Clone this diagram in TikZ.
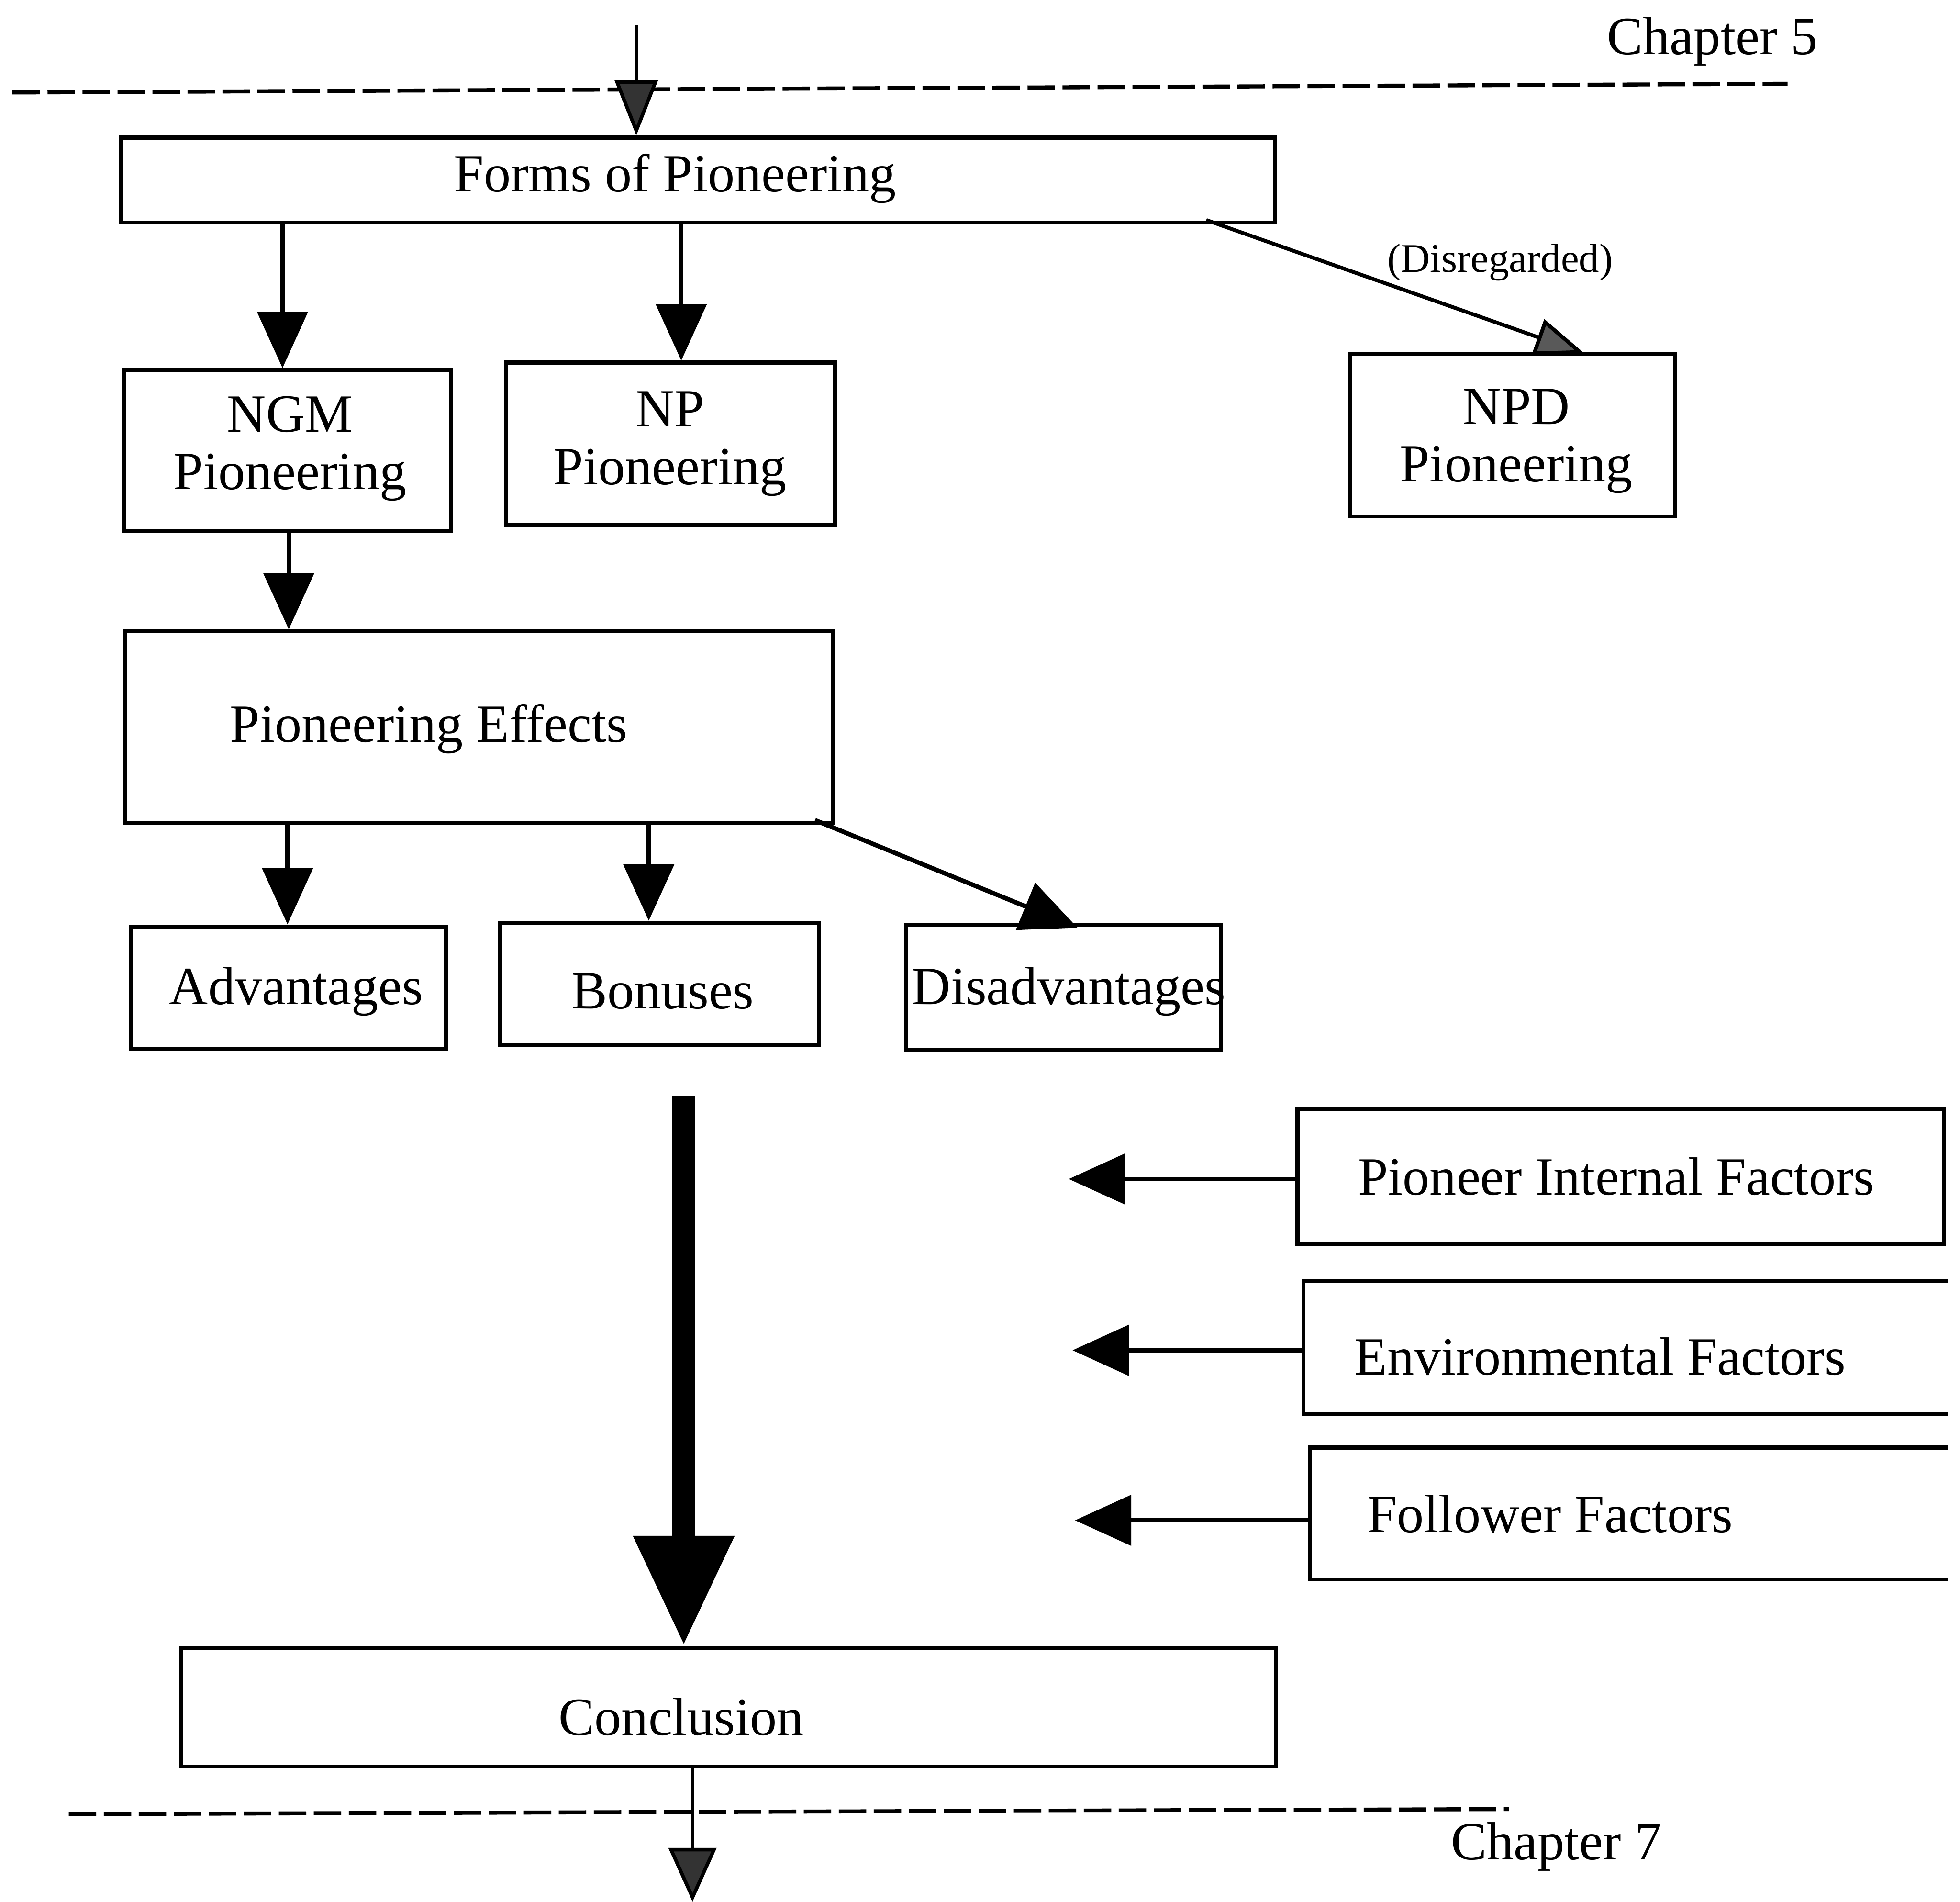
\documentclass[tikz,border=0pt]{standalone}
\usepackage{fontspec}
\setmainfont{Liberation Serif}
\usetikzlibrary{arrows.meta}
\begin{document}
\begin{tikzpicture}[x=1pt,y=-1pt,
  box/.style={draw,line width=3.2pt,inner sep=0pt,rectangle},
  openbox/.style={inner sep=0pt,rectangle},
  lbl/.style={inner sep=0pt,font=\fontsize{43}{46}\selectfont,align=center,yshift=-3pt},
  small/.style={inner sep=0pt,font=\fontsize{32.5}{35}\selectfont,yshift=-2pt},
  arr/.style={line width=3.6pt,-{Triangle[length=45pt,width=40pt]}},
  hatch/.style={line width=2.8pt,-{Triangle[length=44pt,width=34pt,fill=black!80]}},
  chapline/.style={line width=3.2pt,dash pattern=on 22pt off 6pt}]
\useasboundingbox (0,0) rectangle (1568,1521);

% chapter separators
\draw[chapline] (10,74) -- (1430,67);
\draw[chapline] (55,1451) -- (1207,1447);
\node[lbl] (ch5) at (1370,30) {Chapter 5};
\node[lbl] (ch7) at (1245,1474) {Chapter 7};

% boxes
\node[box,minimum width=923pt,minimum height=68pt] (forms) at (558.5,144) {};
\node[box,minimum width=262pt,minimum height=129pt] (ngm) at (230,360.5) {};
\node[box,minimum width=263pt,minimum height=130pt] (np) at (536.5,355) {};
\node[box,minimum width=260pt,minimum height=130pt] (npd) at (1210,348) {};
\node[box,minimum width=566pt,minimum height=153pt] (eff) at (383,581.5) {};
\node[box,minimum width=252pt,minimum height=98pt] (adv) at (231,790) {};
\node[box,minimum width=255pt,minimum height=98pt] (bon) at (527.5,787) {};
\node[box,minimum width=252pt,minimum height=100pt] (dis) at (851,790) {};
\node[box,minimum width=517pt,minimum height=108pt] (pif) at (1296.5,941) {};
\node[openbox,minimum width=515pt,minimum height=106pt] (env) at (1300.5,1078) {};
\node[openbox,minimum width=510pt,minimum height=105pt] (fol) at (1303,1210.5) {};
\node[box,minimum width=876pt,minimum height=95pt] (conc) at (583,1365.5) {};

% boxes open on the right
\draw[line width=3.2pt] (env.north east) -- (env.north west) -- (env.south west) -- (env.south east);
\draw[line width=3.2pt] (fol.north east) -- (fol.north west) -- (fol.south west) -- (fol.south east);

% labels
\node[lbl] (formsT) at (540,140) {Forms of Pioneering};
\node[lbl] (ngmT) at (232,356) {NGM\\Pioneering};
\node[lbl] (npT) at (536,352) {NP\\Pioneering};
\node[lbl] (npdT) at (1213,350) {NPD\\Pioneering};
\node[lbl] (effT) at (343,580) {Pioneering Effects};
\node[lbl] (advT) at (237,790) {Advantages};
\node[lbl] (bonT) at (530,790) {Bonuses};
\node[lbl] (disT) at (855,790) {Disadvantages};
\node[lbl] (pifT) at (1293,938) {Pioneer Internal Factors};
\node[lbl] (envT) at (1280,1082) {Environmental Factors};
\node[lbl] (folT) at (1240,1208) {Follower Factors};
\node[lbl] (concT) at (545,1370) {Conclusion};
\node[small] (disreg) at (1200,208) {(Disregarded)};

% free ends
\coordinate (in5) at (509,20);
\coordinate (out7) at (554,1521);
\coordinate (flow) at (547,877);
\coordinate (pifE) at (855,943);
\coordinate (envE) at (858,1080);
\coordinate (folE) at (860,1216);

% connectors
\draw[hatch] (in5) -- (in5 |- forms.north);
\draw[arr] (226,0 |- forms.south) -- (226,0 |- ngm.north);
\draw[arr] (545,0 |- forms.south) -- (545,0 |- np.north);
\draw[line width=3pt,-{Triangle[length=40pt,width=30pt,fill=black!65]}] (965,176) -- (1268,283);
\draw[arr] (231,0 |- ngm.south) -- (231,0 |- eff.north);
\draw[arr] (230,0 |- eff.south) -- (230,0 |- adv.north);
\draw[arr] (519,0 |- eff.south) -- (519,0 |- bon.north);
\draw[arr] (652,656) -- (862,742);
\draw[line width=18pt,-{Triangle[length=88pt,width=76pt]}] (flow) -- (flow |- conc.north);
\draw[arr] (pifE -| pif.west) -- (pifE);
\draw[arr] (envE -| env.west) -- (envE);
\draw[arr] (folE -| fol.west) -- (folE);
\draw[line width=2.8pt,-{Triangle[length=43pt,width=38pt,fill=black!80]}] (out7 |- conc.south) -- (out7);
\end{tikzpicture}
\end{document}
